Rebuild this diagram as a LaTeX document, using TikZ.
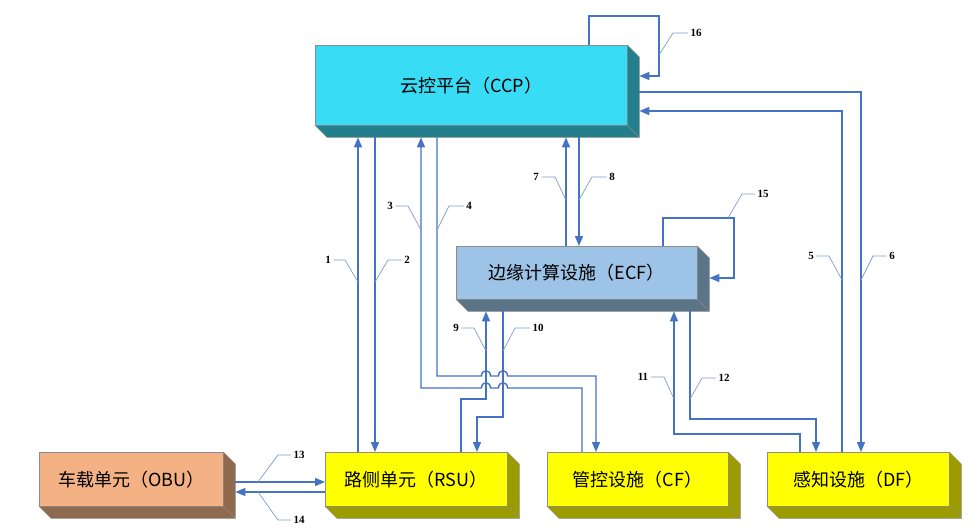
\documentclass[tikz,border=0pt]{standalone}
\usepackage{fontspec}
\setmainfont{Liberation Serif}
\newfontfamily\cjk{Noto Sans CJK SC}
\usetikzlibrary{arrows.meta}
\definecolor{ccpfront}{HTML}{38DCF4}
\definecolor{ccpside}{HTML}{237F8C}
\definecolor{ecffront}{HTML}{9DC3E6}
\definecolor{ecfside}{HTML}{5B7487}
\definecolor{obufront}{HTML}{F4B183}
\definecolor{obuside}{HTML}{8F6A4F}
\definecolor{ylwfront}{HTML}{FFFF00}
\definecolor{ylwside}{HTML}{9C9C00}
\definecolor{flowblue}{HTML}{4472C4}
\definecolor{leadblue}{HTML}{7F9BD0}
\tikzset{box/.style={draw=black!45, line width=0.4pt, inner sep=0pt, anchor=north west,
    font=\cjk\fontsize{18}{21}\selectfont},
  flow/.style={draw=flowblue, line width=1.4pt, -{Triangle[length=10pt,width=8pt]}},
  lead/.style={draw=leadblue, line width=0.7pt},
  num/.style={font=\bfseries\fontsize{11}{13}\selectfont, inner sep=2.5pt}}

\begin{document}
\begin{tikzpicture}[x=1pt, y=-1pt]
    \useasboundingbox (0,0) rectangle (978,531);

    % front faces
    \node[box, fill=ccpfront, minimum width=312pt, minimum height=80pt] (ccp) at (315,45) {云控平台（CCP）};
    \node[box, fill=ecffront, minimum width=241pt, minimum height=53pt] (ecf) at (456,246) {边缘计算设施（ECF）};
    \node[box, fill=obufront, minimum width=184pt, minimum height=54pt] (obu) at (39,452) {车载单元（OBU）};
    \node[box, fill=ylwfront, minimum width=182pt, minimum height=54pt] (rsu) at (325,452) {路侧单元（RSU）};
    \node[box, fill=ylwfront, minimum width=181pt, minimum height=54pt] (cf) at (547,452) {管控设施（CF）};
    \node[box, fill=ylwfront, minimum width=182pt, minimum height=54pt] (df) at (767,452) {感知设施（DF）};

    % depth of the boxes
    \foreach \b/\c in {ccp/ccpside, ecf/ecfside, obu/obuside, rsu/ylwside, cf/ylwside, df/ylwside}
    {
        \filldraw[fill=\c, draw=black!45, line width=0.4pt] (\b.north east) -- ++(12,12)
            -- ([shift={(12,12)}]\b.south east) -- ([shift={(12,12)}]\b.south west)
            -- (\b.south west) -- (\b.south east) -- cycle;
        \draw[black!45, line width=0.4pt] (\b.south east) -- ++(12,12);
        \coordinate (\b-b) at ([yshift=-12pt]\b.south);
        \coordinate (\b-r) at ([xshift=12pt]\b.east);
    }

    % RSU -- CCP
    \draw[flow] (358,0 |- rsu.north) -- (358,0 |- ccp-b);
    \draw[flow] (375,0 |- ccp-b) -- (375,0 |- rsu.north);
    % CF -- CCP
    \draw[flow] (582,0 |- cf.north) -- (582,388) -- (507.5,388)
        .. controls (507.5,381) and (498.5,381) .. (498.5,388) -- (490.5,388)
        .. controls (490.5,381) and (481.5,381) .. (481.5,388) -- (421,388) -- (421,0 |- ccp-b);
    \draw[flow] (437,0 |- ccp-b) -- (437,376) -- (481.5,376)
        .. controls (481.5,369) and (490.5,369) .. (490.5,376) -- (498.5,376)
        .. controls (498.5,369) and (507.5,369) .. (507.5,376) -- (596,376) -- (596,0 |- cf.north);
    % DF -- CCP
    \draw[flow] (842,0 |- df.north) -- (842,111) -- (ccp-r |- 0,111);
    \draw[flow] (ccp-r |- 0,92) -- (861,92) -- (861,0 |- df.north);
    % ECF -- CCP
    \draw[flow] (566,0 |- ecf.north) -- (566,0 |- ccp-b);
    \draw[flow] (579,0 |- ccp-b) -- (579,0 |- ecf.north);
    % RSU -- ECF
    \draw[flow] (461,0 |- rsu.north) -- (461,399) -- (486,399) -- (486,0 |- ecf-b);
    \draw[flow] (503,0 |- ecf-b) -- (503,417) -- (477,417) -- (477,0 |- rsu.north);
    % DF -- ECF
    \draw[flow] (800,0 |- df.north) -- (800,434) -- (674,434) -- (674,0 |- ecf-b);
    \draw[flow] (690,0 |- ecf-b) -- (690,419) -- (816,419) -- (816,0 |- df.north);
    % OBU -- RSU
    \draw[flow] (obu-r |- 0,482) -- (rsu.west |- 0,482);
    \draw[flow] (rsu.west |- 0,492) -- (obu-r |- 0,492);
    % loops
    \draw[flow] (663,0 |- ecf.north) -- (663,218) -- (734,218) -- (734,278) -- (ecf-r |- 0,278);
    \draw[flow] (589,0 |- ccp.north) -- (589,16) -- (659,16) -- (659,76) -- (ccp-r |- 0,76);

    % numbers
    \foreach \n/\tx/\ty/\kx/\px/\py in {1/328/260/345/358/282, 2/407/260/388/375/282,
        3/390/206/408/421/230, 4/469/206/449/437/230, 5/811/256/829/842/280,
        6/892/256/873/861/280, 7/536/177/555/566/200, 8/612/177/592/579/200,
        9/456/328/474/486/351, 10/538/328/515/503/351, 11/643/377/664/674/399,
        12/724/378/702/690/399, 13/299/455/278/258/482, 14/299/520/278/258/492,
        15/763/194/742/728/218, 16/696/33/673/659/55}
    {
        \node[num] (l\n) at (\tx,\ty) {\n};
        \coordinate (t\n) at (\px,\py);
        \draw[lead] (l\n) -- (\kx,\ty) -- (t\n);
    }
\end{tikzpicture}
\end{document}
